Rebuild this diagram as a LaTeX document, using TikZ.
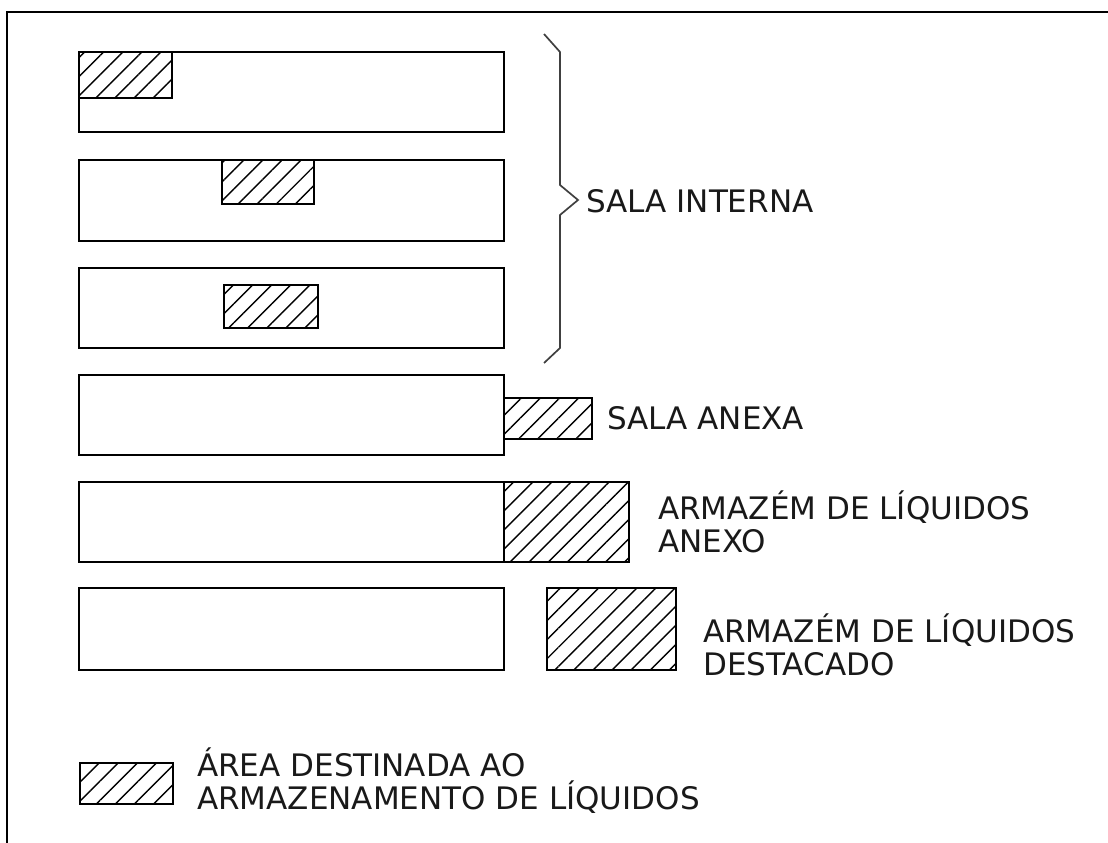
\documentclass[tikz,border=0pt]{standalone}
\usepackage{fontspec}
\setmainfont{DejaVu Sans}
\usetikzlibrary{patterns.meta}
\begin{document}
\begin{tikzpicture}[x=1pt,y=-1pt,
  room/.style={draw=black,line width=2.1pt,fill=white},
  hatch/.style={draw=black,line width=2.1pt,pattern={Lines[angle=45,distance=13.5pt,line width=1.4pt]}},
  lbl/.style={anchor=base west,inner sep=0pt,align=left,text=black!90,font=\fontsize{31}{33}\selectfont}]
\useasboundingbox[fill=white] (0,0) rectangle (1108,843);
% frame
\draw[line width=2.2pt] (7,843) -- (7,12) -- (1108,12);
% rooms
\draw[room] (79,52) rectangle (504,132);
\draw[hatch] (79,52) rectangle (172,98);
\draw[room] (79,160) rectangle (504,241);
\draw[hatch] (222,160) rectangle (314,204);
\draw[room] (79,268) rectangle (504,348);
\draw[hatch] (224,285) rectangle (318,328);
\draw[room] (79,375) rectangle (504,455);
\draw[hatch] (504,398) rectangle (592,439);
\draw[room] (79,482) rectangle (504,562);
\draw[hatch] (504,482) rectangle (629,562);
\draw[room] (79,588) rectangle (504,670);
\draw[hatch] (547,588) rectangle (676,670);
% legend
\draw[hatch] (80,763) rectangle (173,804);
% brace
\draw[line width=1.7pt,black!75,line join=miter] (544,34) -- (560,52) -- (560,185) -- (578,200) -- (560,215) -- (560,348) -- (544,363);
% labels
\node[lbl] (interna) at (586,212) {SALA INTERNA};
\node[lbl] (anexa) at (607,429) {SALA ANEXA};
\node[lbl] (anexo) at (658,552) {ARMAZÉM DE LÍQUIDOS\\ANEXO};
\node[lbl] (destacado) at (703,675) {ARMAZÉM DE LÍQUIDOS\\DESTACADO};
\node[lbl] (legenda) at (197,809) {ÁREA DESTINADA AO\\ARMAZENAMENTO DE LÍQUIDOS};
\end{tikzpicture}
\end{document}
